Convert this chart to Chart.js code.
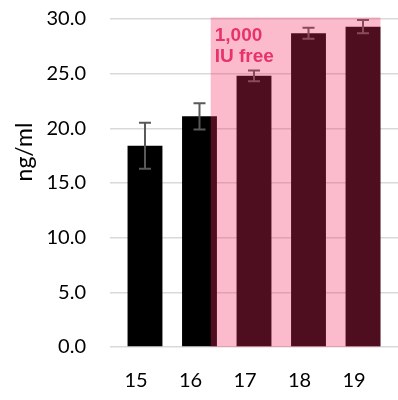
<!DOCTYPE html>
<html>
<head>
<meta charset="utf-8">
<script src="https://cdn.jsdelivr.net/npm/chart.js@4"></script>
<style>
  html, body { margin: 0; padding: 0; background: #fff; }
  #wrap { width: 398px; height: 400px; }
</style>
</head>
<body>
<div id="wrap"><canvas id="vitChart"></canvas></div>
<script>
const YEARS = ['15', '16', '17', '18', '19'];
const LEVELS = [18.4, 21.1, 24.8, 28.7, 29.3];
const ERRORS = [2.1, 1.2, 0.5, 0.5, 0.6];
const Y_TICKS = [0, 5, 10, 15, 20, 25, 30];
const Y_TITLE = 'ng/ml';
const NOTE = ['1,000', 'IU free'];

// error bars, drawn on top of the bars
const errorBars = {
  id: 'errorBars',
  afterDatasetsDraw(chart) {
    const { ctx, scales: { x, y } } = chart;
    ctx.save();
    ctx.strokeStyle = '#595959';
    ctx.lineWidth = 2;
    LEVELS.forEach((v, i) => {
      const px = x.getPixelForValue(i);
      const top = y.getPixelForValue(v + ERRORS[i]);
      const bot = y.getPixelForValue(v - ERRORS[i]);
      ctx.beginPath();
      ctx.moveTo(px, top); ctx.lineTo(px, bot);
      ctx.moveTo(px - 6, top); ctx.lineTo(px + 6, top);
      ctx.moveTo(px - 6, bot); ctx.lineTo(px + 6, bot);
      ctx.stroke();
    });
    ctx.restore();
  }
};

// pink shaded period, laid over bars and grid
const shade = {
  id: 'shade',
  afterDatasetsDraw(chart) {
    const { ctx, scales: { x, y } } = chart;
    const left = x.getPixelForValue(1.206);
    const right = x.getPixelForValue(4.32);
    const top = y.getPixelForValue(30) - 1.5;
    const bottom = y.getPixelForValue(0);
    ctx.save();
    ctx.fillStyle = 'rgba(245, 40, 100, 0.32)';
    ctx.fillRect(left, top, right - left, bottom - top);
    ctx.fillStyle = '#e8336a';
    ctx.font = 'bold 19px "Liberation Sans", Arial, sans-serif';
    ctx.textBaseline = 'top';
    ctx.fillText(NOTE[0], left + 4, top + 9);
    ctx.fillText(NOTE[1], left + 4, top + 30);
    ctx.restore();
  }
};

const yTitle = {
  id: 'yTitle',
  afterDraw(chart) {
    const { ctx } = chart;
    ctx.save();
    ctx.translate(25, 152);
    ctx.rotate(-Math.PI / 2);
    ctx.fillStyle = '#000';
    ctx.font = '23px Lato, sans-serif';
    ctx.textAlign = 'center';
    ctx.textBaseline = 'middle';
    ctx.fillText(Y_TITLE, 0, 0);
    ctx.restore();
  }
};

const ctx = document.getElementById('vitChart').getContext('2d');

const vitChart = new Chart(ctx, {
  type: 'bar',
  data: {
    datasets: [{
      data: LEVELS.map((v, i) => ({ x: i, y: v })),
      backgroundColor: '#000000',
      barPercentage: 0.64,
      categoryPercentage: 1
    }]
  },
  options: {
    responsive: true,
    maintainAspectRatio: false,
    animation: false,
    layout: { padding: { top: 19, right: 0, left: 0, bottom: 0 } },
    scales: {
      x: {
        type: 'linear',
        offset: false,
        min: -0.642,
        max: 4.642,
        grid: { display: false },
        border: { display: false },
        afterBuildTicks: (scale) => {
          scale.ticks = YEARS.map((_, i) => ({ value: i }));
        },
        afterFit: (scale) => {
          scale.height = 53;
          scale.paddingLeft = 0;
          scale.paddingRight = 0;
        },
        ticks: {
          autoSkip: false,
          maxRotation: 0,
          padding: 14,
          labelOffset: -9,
          color: '#000',
          font: { family: 'Lato', size: 20 },
          callback: (v) => YEARS[v]
        }
      },
      y: {
        min: 0,
        max: 30,
        afterBuildTicks: (scale) => {
          scale.ticks = Y_TICKS.map(v => ({ value: v }));
        },
        afterFit: (scale) => {
          scale.width = 110;
          scale.paddingTop = 0;
          scale.paddingBottom = 0;
        },
        grid: { color: '#d9d9d9', lineWidth: 1.5, drawTicks: false },
        border: { display: false },
        ticks: {
          padding: 24,
          color: '#000',
          font: { family: 'Lato', size: 20 },
          callback: (v) => v.toFixed(1)
        }
      }
    },
    plugins: {
      legend: { display: false },
      tooltip: { enabled: false }
    }
  },
  plugins: [errorBars, shade, yTitle]
});
</script>
</body>
</html>
